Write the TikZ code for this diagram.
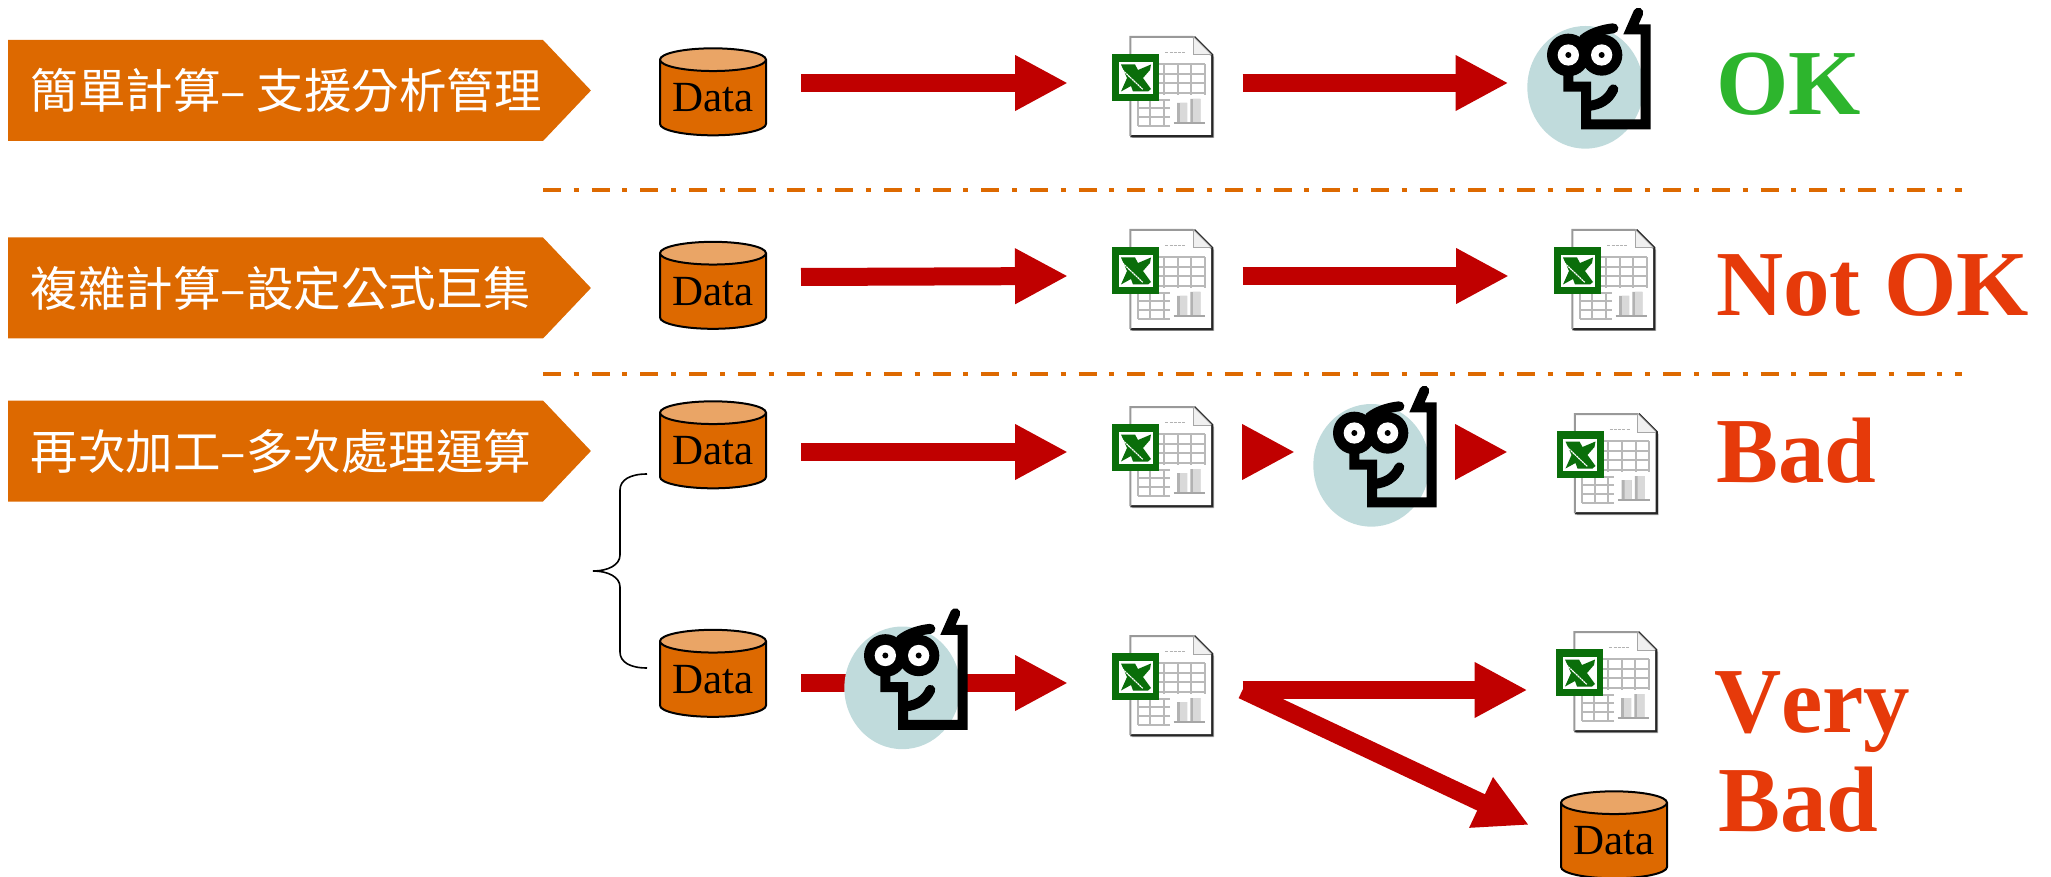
\documentclass[tikz,border=0pt]{standalone}
\usepackage{fontspec}
\setmainfont{Liberation Serif}
\newfontfamily\cjkfont{Noto Sans CJK TC}
\usetikzlibrary{arrows.meta,shapes.geometric,shapes.symbols}
\definecolor{bannerorange}{HTML}{DD6900}
\definecolor{toporange}{HTML}{EAA566}
\definecolor{arrowred}{HTML}{C00000}
\definecolor{headteal}{HTML}{C0DBDC}
\definecolor{xlgreen}{HTML}{0A6E0A}
\definecolor{okgreen}{HTML}{2DB52D}
\definecolor{badred}{HTML}{E63A0A}
\tikzset{
  banner/.style={shape=signal,signal to=east,signal pointer angle=93,fill=bannerorange,text=white,
    minimum width=579pt,minimum height=101pt,text width=535pt,inner sep=0pt,outer sep=0pt,anchor=west,align=left,
    execute at begin node=\hspace*{23pt},
    font=\cjkfont\fontsize{47.5}{52}\selectfont},
  datacyl/.style={shape=cylinder,shape border rotate=90,aspect=0.28,draw=black,line width=2pt,
    cylinder uses custom fill,cylinder body fill=bannerorange,cylinder end fill=toporange,
    minimum width=106pt,minimum height=87pt,inner sep=0pt,outer sep=0pt,
    font=\fontsize{43}{50}\selectfont},
  flowarrow/.style={draw=arrowred,line width=18pt,-{Triangle[length=53pt,width=52pt,fill=arrowred]}},
  divider/.style={draw=bannerorange,line width=3.5pt,dash pattern=on 18pt off 12.7pt on 5pt off 13pt},
  verdict/.style={anchor=base west,inner sep=0pt,font=\bfseries\fontsize{93}{100}\selectfont,text=badred},
  iconbox/.style={minimum width=101pt,minimum height=100pt,inner sep=0pt,outer sep=0pt},
  excel/.pic={
    \fill[gray!60] (83,2)--(102,20)--(102,101)--(20,101)--cycle;
    \draw[black!85,line width=2.8pt] (82,0)--(100,18)--(100,99)--(18.3,99);
    \fill[white] (18.3,0)--(81,0)--(99,18)--(99,98)--(18.3,98)--cycle;
    \draw[gray!80,line width=2pt] (18.3,99)--(18.3,0)--(81,0)--(99,18);
    \fill[gray!12] (81,0)--(81,18)--(99,18)--cycle;
    \draw[gray!70,line width=1pt] (81,0)--(81,18)--(99,18);
    \draw[gray!60,line width=1.5pt,dash pattern=on 3pt off 1.2pt] (53.3,15.7)--(73.3,15.7);
    \foreach \yy in {27.3,37,46.3,55.7} \draw[gray!55,line width=2pt] (47,\yy)--(92.7,\yy);
    \foreach \xx in {51.7,65.7,79.3,92.7} \draw[gray!55,line width=2pt] (\xx,27.3)--(\xx,58);
    \foreach \yy in {63,71.3,79.7,89} \draw[gray!55,line width=2pt] (25.7,\yy)--(57.7,\yy);
    \foreach \xx in {25.7,38.3,51.7} \draw[gray!55,line width=2pt] (\xx,63)--(\xx,89);
    \fill[gray!60] (65,66)rectangle(75,85) (78.3,62)rectangle(88.3,85);
    \fill[gray!30] (68,66)rectangle(75,85) (81,62)rectangle(88.3,85);
    \draw[gray!70,line width=2pt] (61.7,86.3)--(93.3,86.3);
    \fill[xlgreen] (0,17)rectangle(47.3,63.7);
    \fill[white] (6.7,24.7)rectangle(40.7,57);
    \fill[xlgreen] (9,27.5)--(23,27.5)--(26,33)--(39,27.5)--(38,33)--(31,41)--(39,52)--(36,54.5)--(21,54.5)--(19,49)--(9,54.5)--(15,41)--cycle;
    \draw[white,line width=1.2pt,dash pattern=on 2pt off .6pt] (8.7,31.3)--(30.7,52.3);
  },
  person/.pic={
    \begin{scope}[scale=1/3]
    \fill[headteal] (196,262) circle[x radius=174,y radius=184];
    \draw[black,line width=10pt,line cap=round,miter limit=10] (355,38)--(333,88)--(377,88)--(377,373)--(198,373)--(198,260)--(145,260)--(145,220);
    \fill[black] (145,165) circle[radius=64] (245,165) circle[radius=62];
    \fill[white] (145,165) circle[radius=32] (245,165) circle[radius=32];
    \fill[black] (145,165) circle[radius=9] (245,165) circle[radius=9];
    \draw[black,line width=10pt,line cap=round] (190,118) .. controls (215,98) and (250,88) .. (280,85);
    \draw[black,line width=10pt,line cap=round] (205,318) .. controls (240,314) and (265,300) .. (280,268);
    \end{scope}
  }
}
\begin{document}
\begin{tikzpicture}[x=1pt,y=-1pt]
\useasboundingbox (0,0) rectangle (2051,877);
% banners
\node[banner] (b1) at (8,90.5) {簡單計算–\hspace{.22em}支援分析管理};
\node[banner] (b2) at (8,288) {複雜計算–設定公式巨集};
\node[banner] (b3) at (8,451) {再次加工–多次處理運算};
% dividers
\coordinate (dl1) at (543,190); \coordinate (dr1) at (1962,190);
\coordinate (dl2) at (543,374); \coordinate (dr2) at (1962,374);
\draw[divider] (dl1)--(dr1);
\draw[divider] (dl2)--(dr2);
% data
\node[datacyl] (d1) at (713,98) {Data};
\node[datacyl] (d2) at (713,291.5) {Data};
\node[datacyl] (d3) at (713,451) {Data};
\node[datacyl] (d4) at (713,679.5) {Data};
\node[datacyl] (d5) at (1614,841) {Data};
% excel anchors
\node[iconbox] (x1) at (1162.5,87) {}; \pic at (1112,37) {excel};
\node[iconbox] (x2) at (1162.5,280) {}; \pic at (1112,230) {excel};
\node[iconbox] (x3) at (1162.5,457) {}; \pic at (1112,407) {excel};
\node[iconbox] (x4) at (1162.5,686) {}; \pic at (1112,636) {excel};
\node[iconbox] (x5) at (1604.5,280) {}; \pic at (1554,230) {excel};
\node[iconbox] (x6) at (1607,464) {}; \pic at (1556.5,414) {excel};
\node[iconbox] (x7) at (1607,682) {}; \pic at (1556,632) {excel};
% person anchors
\node[iconbox] (p1) at (1585,87) {};
\node[iconbox] (p2) at (1370.5,464) {};
\node[iconbox] (p3) at (902,688) {};
% arrows
\draw[flowarrow] ([shift={(35,-15)}]d1.east) -- ([shift={(-44,-4)}]x1.west);
\draw[flowarrow] ([shift={(29.5,-4)}]x1.east) -- ([shift={(-76.5,-4)}]p1.center);
\draw[flowarrow] ([shift={(35,-14.5)}]d2.east) -- ([shift={(-44,-4)}]x2.west);
\draw[flowarrow] ([shift={(29.5,-4)}]x2.east) -- ([shift={(-45,-4)}]x5.west);
\draw[flowarrow] ([shift={(35,1)}]d3.east) -- ([shift={(-44,-5)}]x3.west);
\draw[flowarrow] ([shift={(29.5,-5)}]x3.east) -- ([shift={(-75.5,-12)}]p2.center);
\draw[flowarrow] ([shift={(34,-12)}]p2.east) -- ([shift={(-48.5,-12)}]x6.west);
\draw[flowarrow] ([shift={(35,3.5)}]d4.east) -- ([shift={(-44,-3)}]x4.west);
\draw[flowarrow] ([shift={(29.5,4)}]x4.east) -- ([shift={(-29,8)}]x7.west);
\draw[flowarrow] ([shift={(29.5,4)}]x4.east) -- ([shift={(-32,-16)}]d5.west);
% people
\pic at (1520,0) {person};
\pic at (1306,378) {person};
\pic at (837,600.5) {person};
% brace
\coordinate (bt) at (647,474); \coordinate (bm) at (593,571); \coordinate (bb) at (647,668);
\draw[black,line width=1.6pt] (bt) .. controls (630,474) and (620,480) .. (620,490) -- (620,555)
  .. controls (620,565) and (608,571) .. (bm) .. controls (608,571) and (620,577) .. (620,587)
  -- (620,652) .. controls (620,662) and (630,668) .. (bb);
% verdicts
\node[verdict,text=okgreen] (v1) at (1716,115) {OK};
\node[verdict] (v2) at (1716,316) {Not OK};
\node[verdict] (v3) at (1716,482) {Bad};
\node[verdict] (v4) at (1714,732) {\addfontfeature{Kerning=Off}Very};
\node[verdict] (v5) at (1718,831) {Bad};
\end{tikzpicture}
\end{document}
